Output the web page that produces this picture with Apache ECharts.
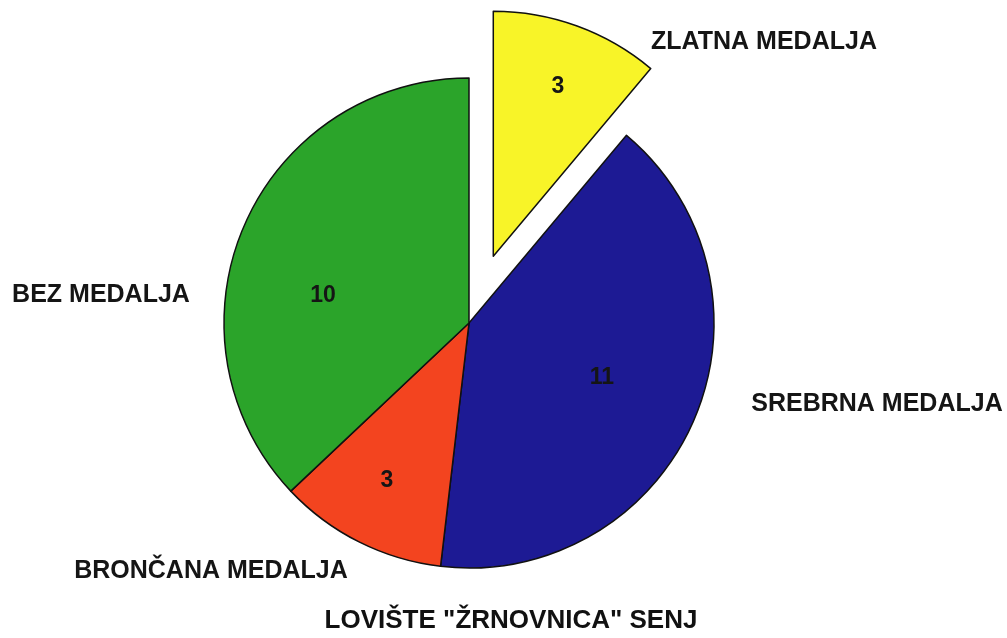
<!DOCTYPE html>
<html>
<head>
<meta charset="utf-8">
<script src="https://cdn.jsdelivr.net/npm/echarts@6/dist/echarts.min.js"></script>
<style>
  html, body { margin: 0; padding: 0; background: #fff; }
  #app { width: 1007px; height: 638px; }
</style>
</head>
<body>
<div id="app"></div>
<script>
const categories = ['ZLATNA MEDALJA', 'SREBRNA MEDALJA', 'BRONČANA MEDALJA', 'BEZ MEDALJA'];
const counts = [3, 11, 3, 10];
const colors = ['#f8f428', '#1d1a94', '#f3441f', '#2ba42a'];
const exploded = [true, false, false, false];

// where the texts sit (centre of each text), same order as categories
const valuePos = [[558, 87], [602, 378], [387, 481], [323, 296]];
const namePos = [[764, 42], [877, 404], [211, 571], [101, 295]];

const font = '"Liberation Sans", Arial, Helvetica, sans-serif';
const center = [469, 323];
const radius = 245;

const chart = echarts.init(document.getElementById('app'));

const sliceData = categories.map((name, i) => ({
  name,
  value: counts[i],
  selected: exploded[i],
  itemStyle: { color: colors[i] },
}));

const plainData = categories.map((name, i) => ({
  name,
  value: counts[i],
}));

function textSeries(data, formatter, size, pos) {
  return {
    type: 'pie',
    center,
    radius,
    silent: true,
    z: 3,
    avoidLabelOverlap: false,
    data,
    itemStyle: { color: 'rgba(0,0,0,0)', borderWidth: 0 },
    emphasis: { disabled: true },
    label: {
      show: true,
      position: 'outside',
      formatter,
      fontFamily: font,
      fontSize: size,
      fontWeight: 'bold',
      color: '#151515',
    },
    labelLine: { show: false },
    labelLayout: (params) => {
      const p = pos[params.dataIndex];
      return { x: p[0], y: p[1], align: 'center', verticalAlign: 'middle' };
    },
  };
}

const option = {
  backgroundColor: '#fff',
  animation: false,
  title: {
    text: 'LOVIŠTE "ŽRNOVNICA" SENJ',
    left: 506,
    top: 603,
    textAlign: 'center',
    textStyle: {
      fontFamily: font,
      fontSize: 26,
      fontWeight: 'bold',
      color: '#111',
    },
  },
  series: [
    {
      type: 'pie',
      center,
      radius,
      startAngle: 90,
      clockwise: true,
      selectedMode: 'single',
      selectedOffset: 71,
      data: sliceData,
      itemStyle: {
        borderColor: '#111',
        borderWidth: 1.5,
      },
      select: {
        itemStyle: { borderColor: '#111', borderWidth: 1.5 },
      },
      emphasis: { disabled: true },
      label: { show: false },
      labelLine: { show: false },
    },
    textSeries(plainData, '{c}', 23, valuePos),
    textSeries(plainData, '{b}', 25, namePos),
  ],
};
chart.setOption(option);
</script>
</body>
</html>
